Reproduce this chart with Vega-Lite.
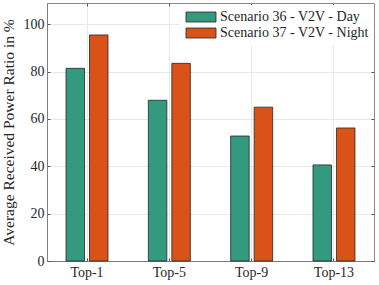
{
  "$schema": "https://vega.github.io/schema/vega-lite/v6.json",
  "width": 327,
  "height": 258,
  "autosize": {"type": "none"},
  "padding": {"left": 47, "top": 3, "right": 5, "bottom": 24},
  "background": "white",
  "config": {
    "font": "Liberation Serif",
    "view": {"stroke": "#8a8a8a", "strokeWidth": 1},
    "axis": {
      "labelFont": "Liberation Serif",
      "titleFont": "Liberation Serif",
      "labelFontSize": 14,
      "labelColor": "#262626",
      "titleColor": "#262626",
      "gridColor": "#e3e3e3",
      "gridWidth": 0.8,
      "tickColor": "#555555",
      "tickSize": -3,
      "domainColor": "#808080"
    }
  },
  "data": {
    "values": [
      {"cat": "Top-1", "scenario": "Scenario 36 - V2V - Day", "value": 81.4},
      {"cat": "Top-1", "scenario": "Scenario 37 - V2V - Night", "value": 95.5},
      {"cat": "Top-5", "scenario": "Scenario 36 - V2V - Day", "value": 67.9},
      {"cat": "Top-5", "scenario": "Scenario 37 - V2V - Night", "value": 83.5},
      {"cat": "Top-9", "scenario": "Scenario 36 - V2V - Day", "value": 52.8},
      {"cat": "Top-9", "scenario": "Scenario 37 - V2V - Night", "value": 65.0},
      {"cat": "Top-13", "scenario": "Scenario 36 - V2V - Day", "value": 40.6},
      {"cat": "Top-13", "scenario": "Scenario 37 - V2V - Night", "value": 56.2}
    ]
  },
  "layer": [
    {
      "mark": {"type": "bar", "stroke": "#262626", "strokeWidth": 0.8},
      "encoding": {
        "x": {
          "field": "cat", "type": "nominal", "sort": ["Top-1", "Top-5", "Top-9", "Top-13"],
          "scale": {"paddingInner": 0.49, "paddingOuter": 0.231},
          "axis": {"title": null, "labelAngle": 0, "bandPosition": 0.5, "grid": true, "labelPadding": 7, "domainColor": "#7a7a7a"}
        },
        "xOffset": {
          "field": "scenario", "type": "nominal",
          "scale": {"paddingInner": 0.213, "paddingOuter": 0}
        },
        "y": {
          "field": "value", "type": "quantitative",
          "scale": {"domain": [0, 109], "nice": false},
          "axis": {"title": "Average Received Power Ratio in %", "titleFontSize": 15.5, "titleFontWeight": "normal", "titlePadding": 7, "values": [0, 20, 40, 60, 80, 100], "labelPadding": 6, "grid": true}
        },
        "color": {
          "field": "scenario", "type": "nominal",
          "scale": {"range": ["#33997f", "#d95319"]},
          "legend": {
            "title": null,
            "orient": "none",
            "legendX": 132,
            "legendY": 2,
            "fillColor": "white",
            "padding": 5,
            "symbolType": "M-3,-1H3V1H-3Z",
            "symbolSize": 100,
            "symbolOffset": 10,
            "symbolStrokeColor": "#262626",
            "symbolStrokeWidth": 0.8,
            "symbolOpacity": 1,
            "labelFontSize": 14,
            "labelFont": "Liberation Serif",
            "labelColor": "#262626",
            "labelOffset": 12,
            "rowPadding": 2,
            "labelLimit": 300
          }
        }
      }
    },
    {
      "mark": {"type": "bar", "opacity": 0},
      "encoding": {
        "x": {
          "field": "cat", "type": "nominal", "sort": ["Top-1", "Top-5", "Top-9", "Top-13"],
          "axis": {"orient": "top", "title": null, "labels": false, "domain": false, "grid": false, "bandPosition": 0.5}
        },
        "y": {
          "field": "value", "type": "quantitative",
          "axis": {"orient": "right", "title": null, "labels": false, "domain": false, "grid": false, "values": [0, 20, 40, 60, 80, 100]}
        }
      }
    }
  ],
  "resolve": {"axis": {"x": "independent", "y": "independent"}}
}
